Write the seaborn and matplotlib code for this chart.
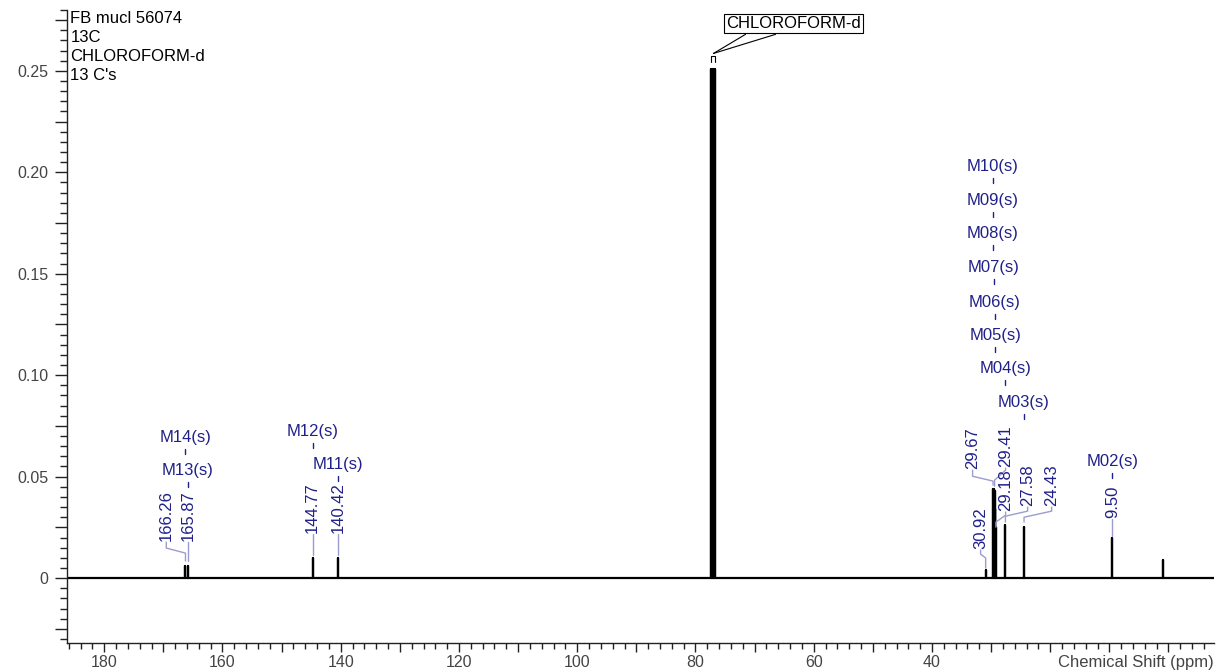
import numpy as np
import pandas as pd
import matplotlib
matplotlib.use("Agg")
import matplotlib.pyplot as plt
import seaborn as sns
from matplotlib.ticker import MultipleLocator, FuncFormatter

# peak list (ppm, intensity)
peak_ppm = [166.26, 165.87, 144.77, 140.42, 77.32, 77.00, 76.68, 30.92,
            29.67, 29.55, 29.41, 29.30, 29.18, 27.58, 24.43, 9.50, 1.00]
peak_height = [0.006, 0.006, 0.010, 0.010, 0.251, 0.251, 0.251, 0.004,
               0.044, 0.044, 0.043, 0.034, 0.025, 0.026, 0.025, 0.020, 0.009]

# multiplet labels
mult_names = ["M14(s)", "M13(s)", "M12(s)", "M11(s)", "M10(s)", "M09(s)", "M08(s)",
              "M07(s)", "M06(s)", "M05(s)", "M04(s)", "M03(s)", "M02(s)"]
mult_ppm = [166.26, 165.87, 144.77, 140.42, 29.67, 29.67, 29.67,
            29.55, 29.41, 29.30, 27.58, 24.43, 9.50]
mult_y = [0.0695, 0.0532, 0.0724, 0.0562, 0.2030, 0.1862, 0.1700,
          0.1532, 0.1360, 0.1197, 0.1034, 0.0867, 0.0576]

# chemical shift labels and their connectors
shift_labels = ["166.26", "165.87", "144.77", "140.42", "29.67", "29.41",
                "29.18", "27.58", "24.43", "30.92", "9.50"]
shift_peak = [166.26, 165.87, 144.77, 140.42, 29.67, 29.41, 29.18, 27.58, 24.43, 30.92, 9.50]
shift_text_ppm = [169.51, 165.87, 144.77, 140.42, 33.13, 27.55, 27.55, 23.82, 19.76, 31.78, 9.50]
shift_text_y = [0.0182, 0.0182, 0.0222, 0.0222, 0.0537, 0.0547, 0.0330, 0.0355, 0.0355, 0.0143, 0.0296]
shift_knee1 = [0.0148, 0.0150, 0.0190, 0.0190, 0.0502, 0.0532, 0.0310, 0.0330, 0.0330, 0.0118, 0.0260]
shift_knee2 = [0.0123, 0.0120, 0.0150, 0.0150, 0.0478, 0.0483, 0.0276, 0.0305, 0.0300, 0.0099, 0.0240]
shift_end = [0.0084, 0.0084, 0.0113, 0.0113, 0.0458, 0.0453, 0.0251, 0.0276, 0.0276, 0.0049, 0.0207]

header = "FB mucl 56074\n13C\nCHLOROFORM-d\n13 C's"
solvent = "CHLOROFORM-d"
solvent_box_ppm, solvent_box_y = 63.42, 0.2695
solvent_lines_ppm = [71.54, 66.46]
solvent_lines_y = 0.268
solvent_peak_ppm, solvent_peak_y = 76.95, 0.2586

x_left, x_right = 186.3, -7.7
y_low, y_high = -0.032, 0.28

# stick spectrum drawn as one path
xs, ys = [x_left], [0.0]
for p, h in sorted(zip(peak_ppm, peak_height), reverse=True):
    xs += [p, p, p]
    ys += [0.0, h, 0.0]
xs.append(x_right)
ys.append(0.0)
spectrum = pd.DataFrame({"ppm": xs, "intensity": ys})

sns.set_style("ticks")
plt.rcParams["font.family"] = ["Liberation Sans", "DejaVu Sans"]

fig = plt.figure(figsize=(12.18, 6.70), dpi=100)
ax = fig.add_axes([67 / 1218, 1 - 643 / 670, (1214 - 67) / 1218, (643 - 10) / 670])

sns.lineplot(data=spectrum, x="ppm", y="intensity", ax=ax, color="black",
             linewidth=1.6, estimator=None, sort=False)

ax.set_xlim(x_left, x_right)
ax.set_ylim(y_low, y_high)
ax.set_xlabel("")
ax.set_ylabel("")
sns.despine(ax=ax)
for s in ["left", "bottom"]:
    ax.spines[s].set_color("#222222")
    ax.spines[s].set_linewidth(1.0)

ax.xaxis.set_major_locator(MultipleLocator(10))
ax.xaxis.set_minor_locator(MultipleLocator(2))
ax.xaxis.set_major_formatter(FuncFormatter(
    lambda v, p: f"{v:.0f}" if (round(v) % 20 == 0 and v >= 30) else ""))
ax.yaxis.set_major_locator(MultipleLocator(0.025))
ax.yaxis.set_minor_locator(MultipleLocator(0.005))


def yfmt(v, p):
    k = round(v / 0.05, 6)
    if v < -1e-9 or abs(k - round(k)) > 1e-6:
        return ""
    return "0" if abs(v) < 1e-9 else f"{v:.2f}"


ax.yaxis.set_major_formatter(FuncFormatter(yfmt))
ax.tick_params(axis="x", which="major", length=6.3, width=1, color="#222222",
               labelsize=11.5, labelcolor="#444444", pad=2)
ax.tick_params(axis="x", which="minor", length=4.3, width=1, color="#222222")
ax.tick_params(axis="y", which="major", length=8.4, width=1, color="#222222",
               labelsize=11.5, labelcolor="#444444", pad=5)
ax.tick_params(axis="y", which="minor", length=5, width=1, color="#222222")

ax.annotate("Chemical Shift (ppm)", xy=(1, 0), xycoords="axes fraction",
            xytext=(0, -8.3), textcoords="offset points", ha="right", va="top",
            fontsize=12, color="#444444")

ax.text(0.003, 0.998, header, transform=ax.transAxes, ha="left", va="top",
        fontsize=12, color="black", linespacing=1.32)

navy = "#20208a"
light = "#9c9ccf"
for name, p, y in zip(mult_names, mult_ppm, mult_y):
    ax.text(p, y, name, ha="center", va="center", fontsize=12, color=navy)
    ax.plot([p, p], [y - 0.0059, y - 0.0084], color=navy, lw=1)

for lab, pk, tx, ty, k1, k2, e in zip(shift_labels, shift_peak, shift_text_ppm,
                                      shift_text_y, shift_knee1, shift_knee2, shift_end):
    ax.text(tx, ty, lab, rotation=90, ha="center", va="bottom", fontsize=12, color=navy)
    ax.plot([tx, tx, pk, pk], [ty - 0.0005, k1, k2, e], color=light, lw=1)

ax.text(solvent_box_ppm, solvent_box_y, solvent, ha="center", va="bottom",
        fontsize=12, color="black",
        bbox=dict(boxstyle="square,pad=0.12", fc="white", ec="black", lw=0.8))
for lp in solvent_lines_ppm:
    ax.plot([lp, solvent_peak_ppm], [solvent_lines_y, solvent_peak_y], color="black", lw=0.8)
ax.plot([77.35, 77.35, 76.65, 76.65], [0.2542, 0.2571, 0.2571, 0.2542], color="black", lw=0.8)

fig.savefig("out.png", dpi=100)
